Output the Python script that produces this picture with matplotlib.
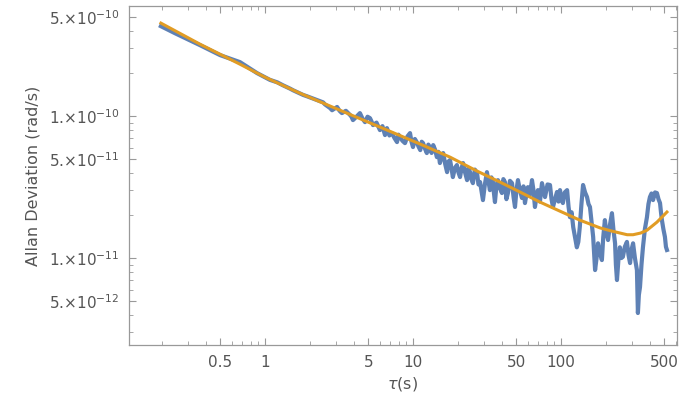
import matplotlib
matplotlib.use("Agg")
import matplotlib.pyplot as plt
from matplotlib.ticker import FixedLocator, LogLocator, NullFormatter

# measured Allan deviation, in units of 1e-11 rad/s
tau = [0.198, 0.246, 0.364, 0.497, 0.678, 0.883, 1.08, 1.21, 1.32, 1.48,
       1.55, 1.81, 1.92, 2.11, 2.47, 2.54, 2.75, 2.84,
       3.07, 3.19, 3.31, 3.52, 3.75, 3.84, 3.93, 4.15, 4.38, 4.56,
       4.74, 4.93, 5.12, 5.24, 5.37, 5.67, 5.98, 6.22, 6.47, 6.57,
       6.67, 6.93, 7.21, 7.50, 7.80, 7.98, 8.17, 8.49, 8.83, 9.18,
       9.55, 9.77, 10.0, 10.3, 10.6, 10.9, 11.2, 11.45, 11.7, 12.05,
       12.4, 12.7, 13.0, 13.35, 13.7, 14.1, 14.5, 14.85, 15.2, 15.6,
       16.0, 16.5, 17.0, 17.4, 17.8, 18.2, 18.6, 19.2, 19.8, 20.3,
       20.8, 21.3, 21.8, 22.5, 23.2, 23.7, 24.3, 24.8, 25.4, 26.2,
       27.1, 27.7, 28.4, 29.0, 29.7, 30.6, 31.6, 32.3, 33.1, 33.9,
       34.7, 35.2, 35.8, 36.6, 37.5, 38.7, 39.9, 40.8, 41.8, 42.8,
       43.8, 45.2, 46.7, 47.8, 48.9, 50.0, 51.2, 52.8, 54.5, 55.8,
       57.1, 58.4, 59.8, 61.7, 63.7, 65.2, 66.7, 68.3, 69.9, 72.1,
       74.4, 76.2, 78.0, 81.1, 84.3, 86.3, 88.3, 91.1, 94.0, 96.2,
       98.5, 100.7, 103, 106, 110, 112.5, 115, 118, 121, 124.5,
       128, 131, 134, 137.5, 141, 145.5, 150, 153.5, 157, 161,
       165, 170, 174, 178, 183, 189, 193, 198, 203, 208,
       214, 221, 226, 232, 235, 239, 244, 250, 256, 262,
       270, 279, 286, 293, 300, 307, 316, 326, 331, 336,
       342, 350, 358, 369, 381, 390, 399, 409, 419, 432,
       445, 456, 467, 474, 481, 492, 504, 512, 520]
adev = [43.0, 38.4, 31.6, 26.9, 24.0, 20.1, 18.0, 17.3, 16.5, 15.6,
        15.2, 14.1, 13.8, 13.3, 12.5, 12.1, 11.4, 11.0,
        11.6, 10.9, 10.5, 10.9, 10.2, 9.9, 9.37, 9.9, 10.5, 9.6,
        9.07, 9.9, 9.68, 9.2, 8.64, 9.0, 7.97, 8.5, 7.35, 7.9,
        8.23, 7.3, 7.59, 7.0, 6.56, 7.4, 7.11, 6.7, 6.45, 7.2,
        7.59, 6.6, 6.05, 6.9, 6.56, 6.1, 5.76, 6.6, 6.45, 5.9,
        5.49, 6.3, 6.05, 5.5, 6.25, 5.8, 5.14, 5.6, 4.67, 5.2,
        5.49, 4.6, 4.03, 4.8, 4.90, 4.3, 3.72, 4.3, 4.52, 4.0,
        3.72, 4.3, 4.67, 4.0, 3.54, 4.3, 4.03, 3.6, 3.37, 4.2,
        3.97, 3.3, 3.43, 3.0, 2.56, 3.3, 4.03, 3.5, 3.01, 3.7,
        3.43, 2.9, 2.48, 3.2, 3.54, 3.1, 2.87, 3.6, 3.43, 2.6,
        2.87, 3.5, 3.37, 2.7, 2.29, 3.0, 3.54, 3.0, 2.65, 3.2,
        2.44, 2.8, 3.16, 2.8, 3.54, 3.0, 2.29, 2.7, 3.01, 2.5,
        3.37, 3.0, 2.69, 3.3, 3.27, 2.6, 2.29, 2.6, 2.92, 2.5,
        3.01, 2.6, 2.44, 2.9, 3.01, 2.3, 1.94, 2.1, 1.65, 1.4,
        1.19, 1.3, 1.65, 2.4, 3.27, 2.9, 2.69, 2.4, 2.29, 1.8,
        1.41, 0.823, 1.0, 1.27, 1.1, 0.968, 1.4, 1.85, 1.5, 1.34,
        1.7, 2.07, 1.6, 1.27, 0.9, 0.700, 0.95, 1.19, 1.0, 1.02,
        1.2, 1.30, 1.05, 0.922, 1.15, 1.27, 1.0, 0.823, 0.410, 0.55,
        0.625, 0.9, 1.19, 1.6, 1.94, 2.4, 2.69, 2.85, 2.56, 2.9,
        2.87, 2.6, 2.44, 2.1, 1.85, 1.6, 1.41, 1.2, 1.14]

# fitted curve, same units
tau_fit = [0.198, 0.364, 0.678, 1.0, 1.72, 3.21, 5.98, 11.2, 17.8, 27.1,
           38.7, 52.8, 72.1, 98.4, 134, 184, 220, 251, 280, 307,
           345, 381, 445, 520]
adev_fit = [45.2, 32.1, 23.2, 18.8, 14.5, 11.0, 8.37, 6.35, 5.14, 4.10,
            3.43, 2.92, 2.48, 2.14, 1.85, 1.63, 1.55, 1.50, 1.46, 1.46,
            1.50, 1.57, 1.79, 2.11]

xticks = [0.5, 1, 5, 10, 50, 100, 500]
xticklabels = ["0.5", "1", "5", "10", "50", "100", "500"]
yticks = [5e-12, 1e-11, 5e-11, 1e-10, 5e-10]
yticklabels = ["5.×10$^{-12}$", "1.×10$^{-11}$", "5.×10$^{-11}$",
               "1.×10$^{-10}$", "5.×10$^{-10}$"]

plt.rcParams['mathtext.fontset'] = 'dejavusans'
gray = '#999999'
txt = '#555555'

fig = plt.figure(figsize=(6.85, 4.04), dpi=100)
ax = fig.add_axes([0.1883, 0.146, 0.8, 0.839])

ax.plot(tau, [v * 1e-11 for v in adev], color='#5E81B5', lw=3.0,
        solid_joinstyle='round')
ax.plot(tau_fit, [v * 1e-11 for v in adev_fit], color='#E19C24', lw=2.2,
        solid_joinstyle='round')

ax.set_xscale('log')
ax.set_yscale('log')
ax.set_xlim(0.1205, 608)
ax.set_ylim(2.44e-12, 5.96e-10)

ax.xaxis.set_major_locator(FixedLocator(xticks))
ax.set_xticklabels(xticklabels)
ax.xaxis.set_minor_locator(LogLocator(base=10, subs=range(2, 10), numticks=20))
ax.xaxis.set_minor_formatter(NullFormatter())
ax.yaxis.set_major_locator(FixedLocator(yticks))
ax.set_yticklabels(yticklabels)
ax.yaxis.set_minor_locator(LogLocator(base=10, subs=range(2, 10), numticks=20))
ax.yaxis.set_minor_formatter(NullFormatter())

ax.tick_params(which='both', direction='in', top=True, right=True,
               color=gray, labelcolor=txt, labelsize=11)
ax.tick_params(which='major', length=5, width=0.8)
ax.tick_params(which='minor', length=3, width=0.6)
ax.tick_params(axis='x', pad=7)
ax.tick_params(axis='y', pad=7)
for s in ax.spines.values():
    s.set_color(gray)
    s.set_linewidth(0.9)

ax.set_xlabel(r"$\tau$(s)", color=txt, fontsize=11.5, labelpad=4)
ax.set_ylabel("Allan Deviation (rad/s)", color=txt, fontsize=11.5, labelpad=6)

fig.savefig("out.png", dpi=100)
